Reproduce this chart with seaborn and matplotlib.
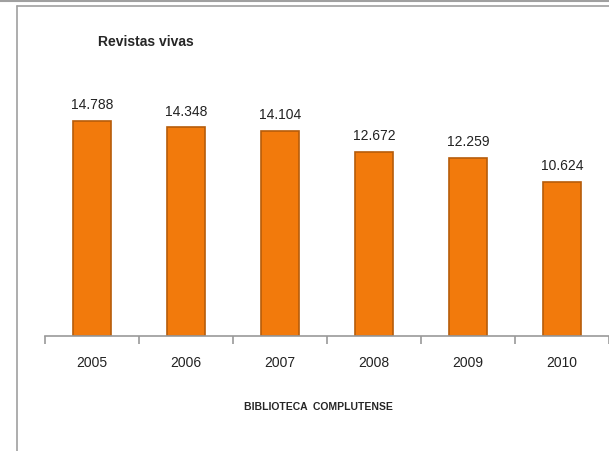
import pandas as pd
import seaborn as sns
import matplotlib.pyplot as plt
from matplotlib.lines import Line2D

years = ["2005", "2006", "2007", "2008", "2009", "2010"]
revistas = [14788, 14348, 14104, 12672, 12259, 10624]
etiquetas = ["14.788", "14.348", "14.104", "12.672", "12.259", "10.624"]

df = pd.DataFrame({"Año": years, "Revistas": revistas})

sns.set_style("white")
fig = plt.figure(figsize=(6.09, 4.52), dpi=100)
ax = fig.add_axes([45 / 609, 115 / 452, 564 / 609, 237 / 452])

sns.barplot(data=df, x="Año", y="Revistas", color="#F27A0C", width=0.41,
            edgecolor="#B65C0A", linewidth=1.2, saturation=1, ax=ax)

ax.bar_label(ax.containers[0], labels=etiquetas, padding=7, fontsize=10,
             color="#222222", family="Liberation Sans")

ax.set_xlim(-0.5, 5.5)
ax.set_ylim(0, 16300)
ax.set_yticks([])
ax.set_xlabel("")
ax.set_ylabel("")
for s in ["top", "right", "left"]:
    ax.spines[s].set_visible(False)
ax.spines["bottom"].set_color("#999999")
ax.spines["bottom"].set_linewidth(1.2)
ax.set_xticks([i - 0.5 for i in range(7)], minor=True)
ax.tick_params(axis="x", which="minor", bottom=True, direction="out",
               length=6, color="#999999", width=1.2)
ax.tick_params(axis="x", which="major", length=0, pad=14, labelsize=10)
for t in ax.get_xticklabels():
    t.set_family("Liberation Sans")
    t.set_color("#222222")

fig.text(98 / 609, 1 - 42 / 452, "Revistas vivas", fontsize=10,
         fontweight="bold", va="center", ha="left", family="Liberation Sans")
fig.text(318 / 609, 1 - 407 / 452, "BIBLIOTECA  COMPLUTENSE", fontsize=7.5,
         fontweight="bold", va="center", ha="center", family="Liberation Sans")

# marco gris
fig.add_artist(Line2D([0, 1], [1 - 1.5 / 452, 1 - 1.5 / 452], color="#A0A0A0", lw=1.5))
fig.add_artist(Line2D([16.5 / 609, 1], [1 - 6.5 / 452, 1 - 6.5 / 452], color="#A0A0A0", lw=1.2))
fig.add_artist(Line2D([16.5 / 609, 16.5 / 609], [0, 1 - 6.5 / 452], color="#A0A0A0", lw=1.2))

fig.savefig("out.png", dpi=100)
